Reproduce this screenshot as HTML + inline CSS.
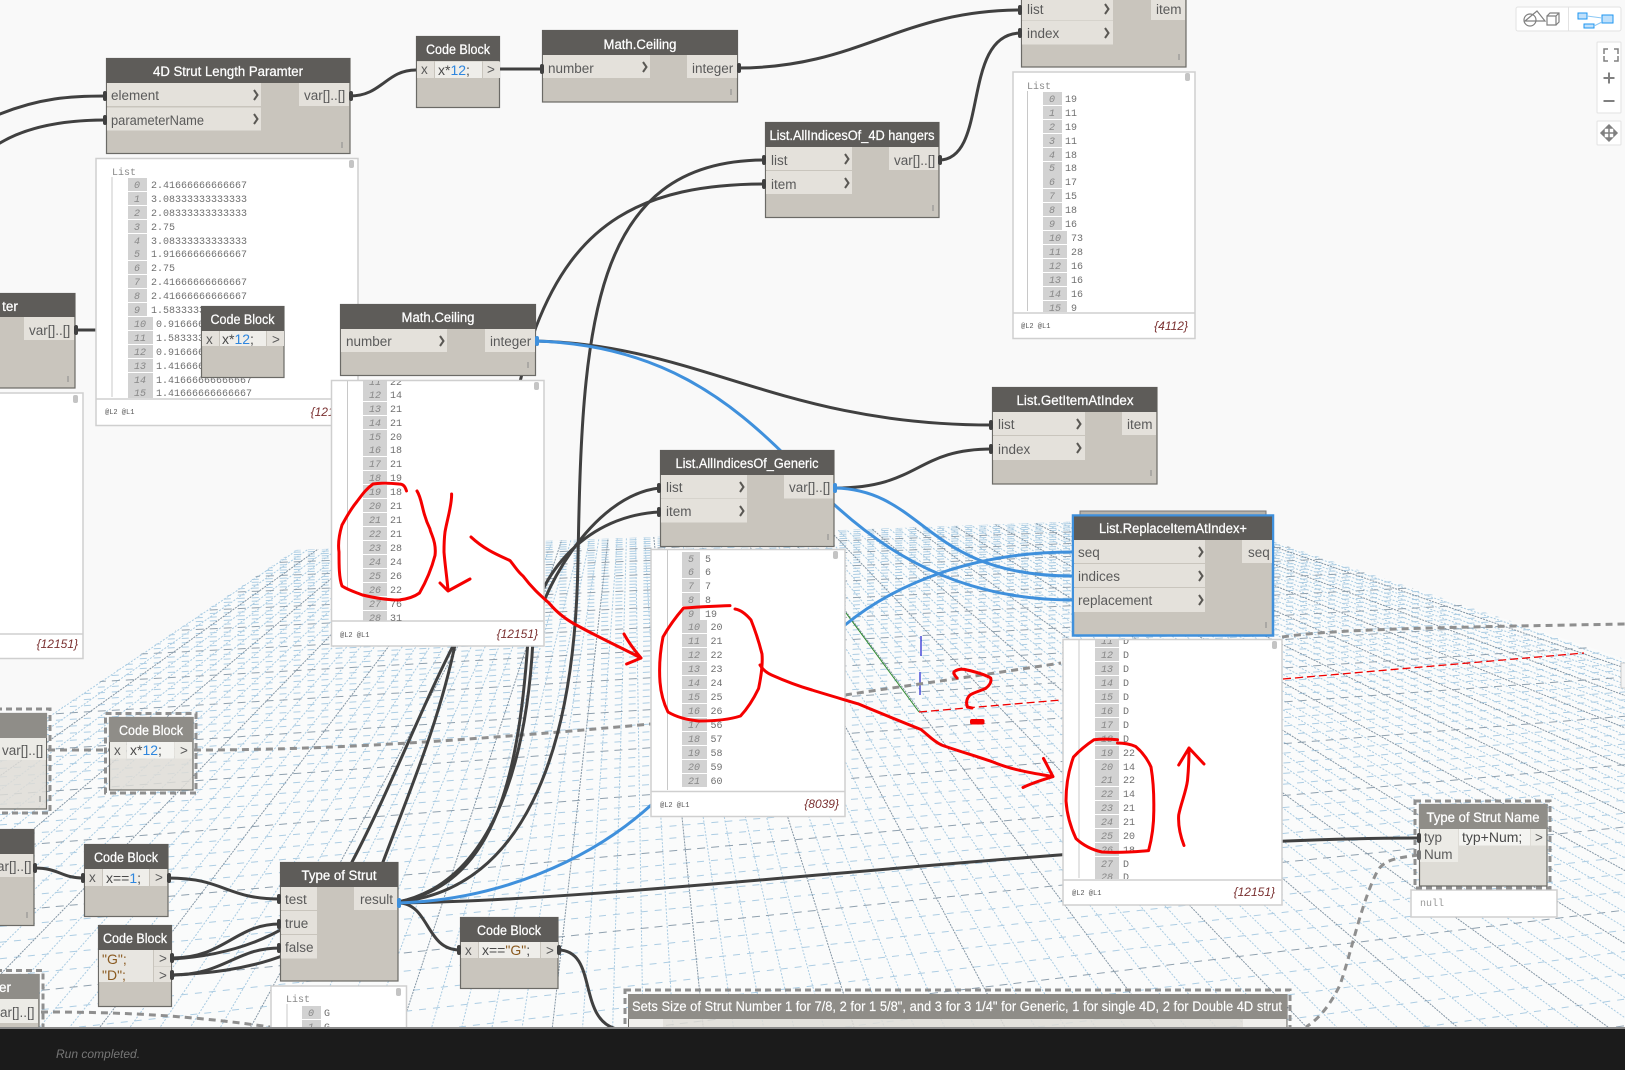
<!DOCTYPE html>
<html><head><meta charset="utf-8"><style>
html,body{margin:0;padding:0;width:1625px;height:1070px;overflow:hidden;background:#f9f9f9}
svg{position:absolute;left:0;top:0}
text{font-family:"Liberation Sans",sans-serif;font-size:13.5px;fill:#5a5a5a}
.hd{fill:#5e5c59}.bd{fill:#c9c5bd;stroke:#6b6a66;stroke-width:1.2}.rw{fill:#e4e1db}
.hf{fill:#8f8d88}.bf{fill:#dedcd6;stroke:#6b6a66;stroke-width:1.2}
.t{fill:#fff;text-anchor:middle;font-size:13.5px;stroke:#fff;stroke-width:.25}
.c{stroke:#404040;stroke-width:3;fill:none;stroke-linecap:round}
.bl{stroke:#3f90dc;stroke-width:3;fill:none;stroke-linecap:round}
.ds{stroke:#8f8f8f;stroke-width:3;fill:none;stroke-dasharray:7 5}
.sel{stroke:#8f8f8f;stroke-width:3;fill:none;stroke-dasharray:6 4}
.red{stroke:#f50000;stroke-width:3;fill:none;stroke-linecap:round;stroke-linejoin:round}
.chev{stroke:#5a5854;stroke-width:2;fill:none}
.pv{fill:#fff;stroke:#cfcfcf;stroke-width:1.5}
.ln{stroke:#cfcfcf;stroke-width:1.5}
.vl{stroke:#c8c8c8;stroke-width:1}
.ix{fill:#d2d2d2}
.i{font-family:"Liberation Mono",monospace;font-size:10px;font-style:italic;fill:#888;text-anchor:middle}
.v{font-family:"Liberation Mono",monospace;font-size:10px;fill:#707070}
.f{font-family:"Liberation Mono",monospace;font-size:7px;fill:#555}
.n{font-family:"Liberation Sans",sans-serif;font-size:12px;font-style:italic;fill:#7a3030;text-anchor:end}
.cd{font-family:"Liberation Sans",sans-serif;font-size:14px;fill:#4a4a4a}
.tool{fill:#fff;stroke:#e2e2e2;stroke-width:1}
.ic{stroke:#808080;stroke-width:1.2;fill:none}
.thumb{fill:#c4c4c4}
.grip{stroke:#8a8a8a;stroke-width:1}
.pt{fill:#404040}
.ga{stroke:#a9cbe2;stroke-width:1;fill:none;stroke-dasharray:2 1.5}
.gb{stroke:#adcde3;stroke-width:1;fill:none;stroke-dasharray:7 7}
.gam{stroke:#8496a5;stroke-width:1;fill:none;stroke-dasharray:2 1}
.gbm{stroke:#8fa0ae;stroke-width:1;fill:none;stroke-dasharray:8 6}
</style></head><body>
<svg width="1625" height="1070" viewBox="0 0 1625 1070">
<defs>
<clipPath id="gc"><polygon points="295,550 1200,517 2724,1027 -412,1027"/></clipPath>
<clipPath id="c1"><rect x="96" y="160" width="262" height="238"/></clipPath>
<clipPath id="c2"><rect x="331" y="381" width="213" height="240"/></clipPath>
<clipPath id="c3"><rect x="651" y="551" width="194" height="240"/></clipPath>
<clipPath id="c4"><rect x="1013" y="72" width="182" height="240"/></clipPath>
<clipPath id="c5"><rect x="1063" y="640" width="219" height="239"/></clipPath>
<clipPath id="c6"><rect x="271" y="986" width="136" height="41"/></clipPath>
<clipPath id="c7"><rect x="0" y="0" width="1625" height="1027"/></clipPath>
</defs>

<!-- Grid plane -->
<polygon points="295,550 1200,517 2724,1027 -412,1027" fill="#fafbfb"/>
<g clip-path="url(#gc)">
<path class="ga" d="M632.4 325L-412.7 1027M632.4 325L-382.6 1027M632.4 325L-322.2 1027M632.4 325L-292.1 1027M632.4 325L-261.9 1027M632.4 325L-231.8 1027M632.4 325L-171.4 1027M632.4 325L-141.3 1027M632.4 325L-111.1 1027M632.4 325L-81 1027M632.4 325L-20.6 1027M632.4 325L9.5 1027M632.4 325L39.7 1027M632.4 325L69.8 1027M632.4 325L130.2 1027M632.4 325L160.3 1027M632.4 325L190.5 1027M632.4 325L220.6 1027M632.4 325L281 1027M632.4 325L311.1 1027M632.4 325L341.3 1027M632.4 325L371.4 1027M632.4 325L431.8 1027M632.4 325L461.9 1027M632.4 325L492.1 1027M632.4 325L522.2 1027M632.4 325L582.6 1027M632.4 325L612.7 1027M632.4 325L642.9 1027M632.4 325L673 1027M632.4 325L733.4 1027M632.4 325L763.5 1027M632.4 325L793.7 1027M632.4 325L823.8 1027M632.4 325L884.2 1027M632.4 325L914.3 1027M632.4 325L944.5 1027M632.4 325L974.6 1027M632.4 325L1035 1027M632.4 325L1065.1 1027M632.4 325L1095.3 1027M632.4 325L1125.4 1027M632.4 325L1185.8 1027M632.4 325L1215.9 1027M632.4 325L1246.1 1027M632.4 325L1276.2 1027M632.4 325L1336.6 1027M632.4 325L1366.7 1027M632.4 325L1396.9 1027M632.4 325L1427 1027M632.4 325L1487.4 1027M632.4 325L1517.5 1027M632.4 325L1547.7 1027M632.4 325L1577.8 1027M632.4 325L1638.2 1027M632.4 325L1668.3 1027M632.4 325L1698.5 1027M632.4 325L1728.6 1027M632.4 325L1789 1027M632.4 325L1819.1 1027M632.4 325L1849.3 1027M632.4 325L1879.4 1027M632.4 325L1939.8 1027M632.4 325L1969.9 1027M632.4 325L2000.1 1027M632.4 325L2030.2 1027M632.4 325L2090.6 1027M632.4 325L2120.7 1027M632.4 325L2150.9 1027M632.4 325L2181 1027M632.4 325L2241.4 1027M632.4 325L2271.5 1027M632.4 325L2301.7 1027M632.4 325L2331.8 1027M632.4 325L2392.2 1027M632.4 325L2422.3 1027M632.4 325L2452.5 1027M632.4 325L2482.6 1027M632.4 325L2543 1027M632.4 325L2573.1 1027M632.4 325L2603.3 1027M632.4 325L2633.4 1027M632.4 325L2693.8 1027"/>
<path class="gb" d="M0 560.8L1625 501.5M0 563.1L1625 503.2M0 565.6L1625 505.1M0 568L1625 506.9M0 570.5L1625 508.8M0 575.8L1625 512.7M0 578.4L1625 514.7M0 581.2L1625 516.8M0 584L1625 518.9M0 589.8L1625 523.2M0 592.8L1625 525.5M0 595.8L1625 527.7M0 598.9L1625 530.1M0 605.4L1625 535M0 608.9L1625 537.6M0 612.4L1625 540.2M0 615.9L1625 542.8M0 623.2L1625 548.3M0 627L1625 551.2M0 630.9L1625 554.1M0 634.9L1625 557.1M0 643.2L1625 563.3M0 647.5L1625 566.5M0 652L1625 569.9M0 656.6L1625 573.4M0 666.1L1625 580.5M0 671.2L1625 584.3M0 676.2L1625 588.1M0 681.7L1625 592.2M0 692.8L1625 600.5M0 698.5L1625 604.8M0 704.5L1625 609.3M0 710.7L1625 614M0 723.7L1625 623.7M0 730.5L1625 628.8M0 737.6L1625 634.2M0 744.9L1625 639.6M0 760.3L1625 651.2M0 768.5L1625 657.4M0 777L1625 663.7M0 785.8L1625 670.4M0 804.4L1625 684.3M0 814.6L1625 691.9M0 824.9L1625 699.7M0 835.7L1625 707.8M0 858.7L1625 725M0 871L1625 734.3M0 883.9L1625 744M0 897.4L1625 754.1M0 926.5L1625 775.9M0 942.2L1625 787.7M0 958.7L1625 800.1M0 976.2L1625 813.2M0 1014.1L1625 841.7M266 1027L1625 873.9M459 1027L1625 891.4M845 1027L1625 930.1M1038 1027L1625 951.5M1230 1027L1625 974.4M1423 1027L1625 999.1M79 1027L1625 857.1"/>
<path class="gam" d="M632.4 325L-352.4 1027M632.4 325L-201.6 1027M632.4 325L-50.8 1027M632.4 325L100 1027M632.4 325L250.8 1027M632.4 325L401.6 1027M632.4 325L552.4 1027M632.4 325L703.2 1027M632.4 325L854 1027M632.4 325L1004.8 1027M632.4 325L1155.6 1027M632.4 325L1306.4 1027M632.4 325L1457.2 1027M632.4 325L1608 1027M632.4 325L1758.8 1027M632.4 325L1909.6 1027M632.4 325L2060.4 1027M632.4 325L2211.2 1027M632.4 325L2362 1027M632.4 325L2512.8 1027M632.4 325L2663.6 1027"/>
<path class="gbm" d="M0 573.1L1625 510.7M0 586.8L1625 521M0 602.2L1625 532.6M0 619.5L1625 545.5M0 639L1625 560.2M0 661.3L1625 576.9M0 687.1L1625 596.3M0 717.1L1625 618.8M0 752.5L1625 645.3M0 794.9L1625 677.2M0 846.9L1625 716.2M0 911.6L1625 764.7M0 994.6L1625 827M652 1027L1625 910.1M1616 1027L1625 1025.7"/>
</g>

<g clip-path="url(#c7)">
<!-- axes -->
<path d="M846 613 L919 712" stroke="#2c8a2c" stroke-width="1" fill="none"/>
<path d="M919 712 L1061 700 M1283 679 L1584 653" stroke="#f00000" stroke-width="1.3" stroke-dasharray="8 4" fill="none"/>
<path d="M921 636V656M920 672V695" stroke="#2020d0" stroke-width="1.2"/>
<rect x="1621" y="663" width="6" height="25" fill="#f4f4f4" stroke="#ccc"/>

<!-- dashed frozen connectors -->
<path class="ds" d="M48 750H109M194 750 C300 750 420 745 651 724 M845 695 C890 688 950 680 1061 663 M1282 637 C1330 630 1400 628 1625 624"/>
<path class="ds" d="M41 1012 C110 1012 180 1014 270 1027"/>
<path class="ds" d="M1419 855 C1395 858 1385 860 1378 870 C1362 900 1352 950 1340 985 C1330 1005 1320 1018 1306 1027"/>

<!-- connectors -->
<path class="c" d="M0 114 C40 98 70 96 106 96"/>
<path class="c" d="M0 143 C30 125 70 120 106 120"/>
<path class="c" d="M350 96 C382 96 386 70 416 70"/>
<path class="c" d="M500 69H542"/>
<path class="c" d="M737 68 C860 68 900 10 1021 10"/>
<path class="c" d="M939 160 C990 160 960 33 1021 33"/>
<path class="c" d="M75 330H98"/>
<path class="c" d="M398 902 C520 890 575 760 578 560 C582 330 590 160 765 160"/>
<path class="c" d="M172 959 C240 955 310 930 352 862 C390 790 420 710 456 640 C490 540 510 400 536 327 C575 225 640 184 765 184"/>
<path class="c" d="M172 975 C240 972 340 960 383 862 C410 790 440 720 456 640"/>
<path class="c" d="M398 902 C480 885 525 790 533 640 C536 600 590 495 660 488"/>
<path class="c" d="M398 902 C490 885 518 790 528 640 C536 570 590 515 660 512"/>
<path class="c" d="M536 341 C700 345 780 425 992 425"/>
<path class="c" d="M835 488 C920 488 915 449 992 449"/>
<path class="c" d="M398 903 C650 900 1100 838 1419 838"/>
<path class="c" d="M398 903 C430 903 425 950 460 950"/>
<path class="c" d="M558 950 C600 950 575 1025 622 1030"/>
<path class="c" d="M168 878 C225 878 225 899 280 899"/>
<path class="c" d="M34 868 C60 868 60 878 84 878"/>
<path class="c" d="M172 958 C225 958 235 924 280 924"/>
<path class="c" d="M172 975 C225 975 235 948 280 948"/>
<path class="bl" d="M536 341 C660 345 730 400 790 460 C850 525 930 600 1072 600"/>
<path class="bl" d="M835 488 C925 490 925 576 1072 576"/>
<path class="bl" d="M398 903 C500 900 590 860 650 806 C730 740 820 650 845 625 C900 580 980 552 1072 552"/>

<!-- previews -->
<rect class="pv" x="96" y="158.500" width="262" height="267"/>
<path class="ln" d="M96 399H358"/><path class="vl" d="M112 177V397"/>
<rect class="thumb" x="349" y="160" width="5" height="8" rx="2"/>
<text x="112" y="175" class="v" style="fill:#888">List</text>
<g clip-path="url(#c1)">
<path class="ix" d="M128 178h19v13h-19zM128 192h19v13h-19zM128 206h19v13h-19zM128 220h19v13h-19zM128 234h19v13h-19zM128 247h19v13h-19zM128 261h19v13h-19zM128 275h19v13h-19zM128 289h19v13h-19zM128 303h19v13h-19zM128 317h25v13h-25zM128 331h25v13h-25zM128 345h25v13h-25zM128 359h25v13h-25zM128 373h25v13h-25zM128 386h25v13h-25z"/>
<text class="i" x="137" y="188">0</text><text class="v" x="151" y="188">2.41666666666667</text>
<text class="i" x="137" y="202">1</text><text class="v" x="151" y="202">3.08333333333333</text>
<text class="i" x="137" y="216">2</text><text class="v" x="151" y="216">2.08333333333333</text>
<text class="i" x="137" y="230">3</text><text class="v" x="151" y="230">2.75</text>
<text class="i" x="137" y="244">4</text><text class="v" x="151" y="244">3.08333333333333</text>
<text class="i" x="137" y="257">5</text><text class="v" x="151" y="257">1.91666666666667</text>
<text class="i" x="137" y="271">6</text><text class="v" x="151" y="271">2.75</text>
<text class="i" x="137" y="285">7</text><text class="v" x="151" y="285">2.41666666666667</text>
<text class="i" x="137" y="299">8</text><text class="v" x="151" y="299">2.41666666666667</text>
<text class="i" x="137" y="313">9</text><text class="v" x="151" y="313">1.58333333333333</text>
<text class="i" x="140" y="327">10</text><text class="v" x="156" y="327">0.916666666666667</text>
<text class="i" x="140" y="341">11</text><text class="v" x="156" y="341">1.58333333333333</text>
<text class="i" x="140" y="355">12</text><text class="v" x="156" y="355">0.916666666666667</text>
<text class="i" x="140" y="369">13</text><text class="v" x="156" y="369">1.41666666666667</text>
<text class="i" x="140" y="383">14</text><text class="v" x="156" y="383">1.41666666666667</text>
<text class="i" x="140" y="396">15</text><text class="v" x="156" y="396">1.41666666666667</text>
</g>
<text class="f" x="105" y="414">@L2 @L1</text><text class="n" x="352" y="416">{12151}</text>

<rect class="pv" x="-2" y="393" width="85" height="265.500"/>
<path class="ln" d="M-2 634H83"/><rect class="thumb" x="73" y="395" width="5" height="8" rx="2"/>
<text class="n" x="78" y="648">{12151}</text>

<rect class="pv" x="331.500" y="380.500" width="212.500" height="265.500"/>
<path class="ln" d="M332 621H544"/><path class="vl" d="M347.500 381V589"/>
<rect class="thumb" x="534" y="382" width="5" height="8" rx="2"/>
<g clip-path="url(#c2)">
<path class="ix" d="M363 375h24v13h-24zM363 388h24v13h-24zM363 402h24v13h-24zM363 416h24v13h-24zM363 430h24v13h-24zM363 443h24v13h-24zM363 457h24v13h-24zM363 471h24v13h-24zM363 485h24v13h-24zM363 499h24v13h-24zM363 513h24v13h-24zM363 527h24v13h-24zM363 541h24v13h-24zM363 555h24v13h-24zM363 569h24v13h-24zM363 583h24v13h-24zM363 597h24v13h-24zM363 611h24v13h-24z"/>
<text class="i" x="375" y="385">11</text><text class="v" x="390" y="385">22</text>
<text class="i" x="375" y="398">12</text><text class="v" x="390" y="398">14</text>
<text class="i" x="375" y="412">13</text><text class="v" x="390" y="412">21</text>
<text class="i" x="375" y="426">14</text><text class="v" x="390" y="426">21</text>
<text class="i" x="375" y="440">15</text><text class="v" x="390" y="440">20</text>
<text class="i" x="375" y="453">16</text><text class="v" x="390" y="453">18</text>
<text class="i" x="375" y="467">17</text><text class="v" x="390" y="467">21</text>
<text class="i" x="375" y="481">18</text><text class="v" x="390" y="481">19</text>
<text class="i" x="375" y="495">19</text><text class="v" x="390" y="495">18</text>
<text class="i" x="375" y="509">20</text><text class="v" x="390" y="509">21</text>
<text class="i" x="375" y="523">21</text><text class="v" x="390" y="523">21</text>
<text class="i" x="375" y="537">22</text><text class="v" x="390" y="537">21</text>
<text class="i" x="375" y="551">23</text><text class="v" x="390" y="551">28</text>
<text class="i" x="375" y="565">24</text><text class="v" x="390" y="565">24</text>
<text class="i" x="375" y="579">25</text><text class="v" x="390" y="579">26</text>
<text class="i" x="375" y="593">26</text><text class="v" x="390" y="593">22</text>
<text class="i" x="375" y="607">27</text><text class="v" x="390" y="607">76</text>
<text class="i" x="375" y="621">28</text><text class="v" x="390" y="621">31</text>
</g>
<text class="f" x="340" y="637">@L2 @L1</text><text class="n" x="538" y="638">{12151}</text>

<rect class="pv" x="651" y="549.500" width="194" height="267"/>
<path class="ln" d="M651 791.500H845"/><path class="vl" d="M667.500 550V790"/>
<rect class="thumb" x="833" y="551" width="5" height="8" rx="2"/>
<g clip-path="url(#c3)">
<path class="ix" d="M682 552h18v13h-18zM682 565h18v13h-18zM682 579h18v13h-18zM682 593h18v13h-18zM682 607h18v13h-18zM682 620h25v13h-25zM682 634h25v13h-25zM682 648h25v13h-25zM682 662h25v13h-25zM682 676h25v13h-25zM682 690h25v13h-25zM682 704h25v13h-25zM682 718h25v13h-25zM682 732h25v13h-25zM682 746h25v13h-25zM682 760h25v13h-25zM682 774h25v13h-25z"/>
<text class="i" x="691" y="562">5</text><text class="v" x="705" y="562">5</text>
<text class="i" x="691" y="575">6</text><text class="v" x="705" y="575">6</text>
<text class="i" x="691" y="589">7</text><text class="v" x="705" y="589">7</text>
<text class="i" x="691" y="603">8</text><text class="v" x="705" y="603">8</text>
<text class="i" x="691" y="617">9</text><text class="v" x="705" y="617">19</text>
<text class="i" x="694" y="630">10</text><text class="v" x="710.500" y="630">20</text>
<text class="i" x="694" y="644">11</text><text class="v" x="710.500" y="644">21</text>
<text class="i" x="694" y="658">12</text><text class="v" x="710.500" y="658">22</text>
<text class="i" x="694" y="672">13</text><text class="v" x="710.500" y="672">23</text>
<text class="i" x="694" y="686">14</text><text class="v" x="710.500" y="686">24</text>
<text class="i" x="694" y="700">15</text><text class="v" x="710.500" y="700">25</text>
<text class="i" x="694" y="714">16</text><text class="v" x="710.500" y="714">26</text>
<text class="i" x="694" y="728">17</text><text class="v" x="710.500" y="728">56</text>
<text class="i" x="694" y="742">18</text><text class="v" x="710.500" y="742">57</text>
<text class="i" x="694" y="756">19</text><text class="v" x="710.500" y="756">58</text>
<text class="i" x="694" y="770">20</text><text class="v" x="710.500" y="770">59</text>
<text class="i" x="694" y="784">21</text><text class="v" x="710.500" y="784">60</text>
</g>
<text class="f" x="660" y="807">@L2 @L1</text><text class="n" x="839" y="808">{8039}</text>

<rect class="pv" x="1013" y="72" width="182" height="266.500"/>
<path class="ln" d="M1013 313H1195"/><path class="vl" d="M1027.500 91V311"/>
<rect class="thumb" x="1185" y="73" width="5" height="8" rx="2"/>
<text x="1027" y="89" class="v" style="fill:#888">List</text>
<g clip-path="url(#c4)">
<path class="ix" d="M1043 92h19v13h-19zM1043 106h19v13h-19zM1043 120h19v13h-19zM1043 134h19v13h-19zM1043 148h19v13h-19zM1043 162h19v13h-19zM1043 175h19v13h-19zM1043 189h19v13h-19zM1043 203h19v13h-19zM1043 217h19v13h-19zM1043 231h24v13h-24zM1043 245h24v13h-24zM1043 259h24v13h-24zM1043 273h24v13h-24zM1043 287h24v13h-24zM1043 301h24v13h-24z"/>
<text class="i" x="1052" y="102">0</text><text class="v" x="1065" y="102">19</text>
<text class="i" x="1052" y="116">1</text><text class="v" x="1065" y="116">11</text>
<text class="i" x="1052" y="130">2</text><text class="v" x="1065" y="130">19</text>
<text class="i" x="1052" y="144">3</text><text class="v" x="1065" y="144">11</text>
<text class="i" x="1052" y="158">4</text><text class="v" x="1065" y="158">18</text>
<text class="i" x="1052" y="171">5</text><text class="v" x="1065" y="171">18</text>
<text class="i" x="1052" y="185">6</text><text class="v" x="1065" y="185">17</text>
<text class="i" x="1052" y="199">7</text><text class="v" x="1065" y="199">15</text>
<text class="i" x="1052" y="213">8</text><text class="v" x="1065" y="213">18</text>
<text class="i" x="1052" y="227">9</text><text class="v" x="1065" y="227">16</text>
<text class="i" x="1055" y="241">10</text><text class="v" x="1071" y="241">73</text>
<text class="i" x="1055" y="255">11</text><text class="v" x="1071" y="255">28</text>
<text class="i" x="1055" y="269">12</text><text class="v" x="1071" y="269">16</text>
<text class="i" x="1055" y="283">13</text><text class="v" x="1071" y="283">16</text>
<text class="i" x="1055" y="297">14</text><text class="v" x="1071" y="297">16</text>
<text class="i" x="1055" y="311">15</text><text class="v" x="1071" y="311">9</text>
</g>
<text class="f" x="1021" y="328">@L2 @L1</text><text class="n" x="1188" y="330">{4112}</text>

<rect class="pv" x="1063" y="639.500" width="219" height="265.500"/>
<path class="ln" d="M1063 880H1282"/><path class="vl" d="M1079 640V878"/>
<rect class="thumb" x="1272" y="641" width="5" height="8" rx="2"/>
<g clip-path="url(#c5)">
<path class="ix" d="M1095 634h24v13h-24zM1095 648h24v13h-24zM1095 662h24v13h-24zM1095 676h24v13h-24zM1095 690h24v13h-24zM1095 704h24v13h-24zM1095 718h24v13h-24zM1095 732h24v13h-24zM1095 746h24v13h-24zM1095 760h24v13h-24zM1095 773h24v13h-24zM1095 787h24v13h-24zM1095 801h24v13h-24zM1095 815h24v13h-24zM1095 829h24v13h-24zM1095 843h24v13h-24zM1095 857h24v13h-24zM1095 870h24v13h-24z"/>
<text class="i" x="1107" y="644">11</text><text class="v" x="1123" y="644">D</text>
<text class="i" x="1107" y="658">12</text><text class="v" x="1123" y="658">D</text>
<text class="i" x="1107" y="672">13</text><text class="v" x="1123" y="672">D</text>
<text class="i" x="1107" y="686">14</text><text class="v" x="1123" y="686">D</text>
<text class="i" x="1107" y="700">15</text><text class="v" x="1123" y="700">D</text>
<text class="i" x="1107" y="714">16</text><text class="v" x="1123" y="714">D</text>
<text class="i" x="1107" y="728">17</text><text class="v" x="1123" y="728">D</text>
<text class="i" x="1107" y="742">18</text><text class="v" x="1123" y="742">D</text>
<text class="i" x="1107" y="756">19</text><text class="v" x="1123" y="756">22</text>
<text class="i" x="1107" y="770">20</text><text class="v" x="1123" y="770">14</text>
<text class="i" x="1107" y="783">21</text><text class="v" x="1123" y="783">22</text>
<text class="i" x="1107" y="797">22</text><text class="v" x="1123" y="797">14</text>
<text class="i" x="1107" y="811">23</text><text class="v" x="1123" y="811">21</text>
<text class="i" x="1107" y="825">24</text><text class="v" x="1123" y="825">21</text>
<text class="i" x="1107" y="839">25</text><text class="v" x="1123" y="839">20</text>
<text class="i" x="1107" y="853">26</text><text class="v" x="1123" y="853">18</text>
<text class="i" x="1107" y="867">27</text><text class="v" x="1123" y="867">D</text>
<text class="i" x="1107" y="880">28</text><text class="v" x="1123" y="880">D</text>
</g>
<text class="f" x="1072" y="895">@L2 @L1</text><text class="n" x="1275" y="896">{12151}</text>

<rect class="pv" x="1411" y="890" width="146" height="27"/>
<text class="v" x="1420" y="906" style="fill:#999">null</text>

<rect class="pv" x="271" y="986" width="135.500" height="60"/>
<path class="vl" d="M287 1004V1027"/><rect class="thumb" x="396" y="988" width="5" height="8" rx="2"/>
<text x="286" y="1002" class="v" style="fill:#888">List</text>
<g clip-path="url(#c6)">
<path class="ix" d="M302 1006h19v13h-19zM302 1020h19v13h-19z"/>
<text class="i" x="311" y="1016">0</text><text class="v" x="324" y="1016">G</text>
<text class="i" x="311" y="1030">1</text><text class="v" x="324" y="1030">G</text>
</g>

<!-- Nodes -->
<!-- 4D Strut -->
<rect class="bd" x="106.500" y="58.500" width="243.500" height="95"/><rect class="hd" x="106" y="58" width="244" height="25"/>
<path class="rw" d="M107 83h154v23h-154zM107 107.500h154v23h-154zM299 83h50v23h-50z"/>
<text class="t" x="228" y="76" textLength="150" lengthAdjust="spacingAndGlyphs">4D Strut Length Paramter</text>
<text x="111" y="100">element</text><text x="111" y="125" textLength="93" lengthAdjust="spacingAndGlyphs">parameterName</text><text x="304" y="100">var[]..[]</text>
<path class="chev" d="M254 90l3.500 5-3.500 5M254 114l3.500 5-3.500 5"/><path class="grip" d="M342 142v6"/>
<rect class="pt" x="103" y="91" width="4" height="10" rx="2"/><rect class="pt" x="103" y="115" width="4" height="10" rx="2"/><rect class="pt" x="349" y="91" width="4" height="10" rx="2"/>

<!-- Code Block top -->
<rect class="bd" x="416.500" y="36.500" width="83" height="71"/><rect class="hd" x="416" y="36" width="84" height="25"/>
<path class="rw" d="M417 61.500h17v16.500h-17zM435 61.500h47v16.500h-47zM483 61.500h17v16.500h-17z"/><rect x="435" y="61.500" width="47" height="16.500" fill="#efeeea"/>
<text class="t" x="458" y="54" textLength="64" lengthAdjust="spacingAndGlyphs">Code Block</text>
<text x="421" y="74" font-size="12">x</text><text class="cd" x="438" y="75">x*<tspan fill="#2e86de">12</tspan>;</text><text x="487" y="74">&gt;</text>

<!-- Math.Ceiling top -->
<rect class="bd" x="542.500" y="30.500" width="195" height="71.500"/><rect class="hd" x="542" y="30" width="196" height="25"/>
<path class="rw" d="M543 55h107v23h-107zM687 55h50v23h-50z"/>
<text class="t" x="640" y="49" textLength="73" lengthAdjust="spacingAndGlyphs">Math.Ceiling</text>
<text x="548" y="73">number</text><text x="692" y="73">integer</text>
<path class="chev" d="M643 62l3.500 5-3.500 5"/><path class="grip" d="M731 89v6"/>
<rect class="pt" x="540" y="64" width="4" height="10" rx="2"/><rect class="pt" x="737" y="63" width="4" height="10" rx="2"/>

<!-- AllIndices 4D -->
<rect class="bd" x="765.500" y="122.500" width="173.500" height="95"/><rect class="hd" x="765" y="122" width="174" height="25"/>
<path class="rw" d="M766 147h86v23h-86zM766 171h86v23h-86zM889 147h49v23h-49z"/>
<text class="t" x="852" y="140" textLength="165" lengthAdjust="spacingAndGlyphs">List.AllIndicesOf_4D hangers</text>
<text x="771" y="165">list</text><text x="771" y="189">item</text><text x="894" y="165">var[]..[]</text>
<path class="chev" d="M845 154l3.500 5-3.500 5M845 178l3.500 5-3.500 5"/><path class="grip" d="M933 205v6"/>
<rect class="pt" x="762" y="155" width="4" height="10" rx="2"/><rect class="pt" x="762" y="179" width="4" height="10" rx="2"/><rect class="pt" x="938" y="155" width="4" height="10" rx="2"/>

<!-- GetItem top -->
<rect class="bd" x="1021.500" y="-20" width="164.500" height="87"/>
<path class="rw" d="M1022 -4h91v24h-91zM1022 20.500h91v24h-91zM1151 -4h34v24h-34z"/>
<text x="1027" y="14">list</text><text x="1027" y="38">index</text><text x="1156" y="14">item</text>
<path class="chev" d="M1105 4l3.500 5-3.500 5M1105 28l3.500 5-3.500 5"/><path class="grip" d="M1179 54v6"/>
<rect class="pt" x="1018" y="5" width="4" height="10" rx="2"/><rect class="pt" x="1018" y="28" width="4" height="10" rx="2"/>

<!-- partial left -->
<rect class="bd" x="-2" y="293.500" width="77" height="94.500"/><rect class="hd" x="-2" y="293" width="77" height="24"/>
<rect class="rw" x="24" y="317" width="50" height="23"/>
<text class="t" x="10" y="311">ter</text><text x="29" y="335">var[]..[]</text><path class="grip" d="M68 376v6"/>
<rect class="pt" x="74" y="325" width="4" height="10" rx="2"/>

<!-- Code Block mid -->
<rect class="bd" x="201.500" y="306.500" width="82.500" height="71"/><rect class="hd" x="201" y="306" width="83" height="25"/>
<path class="rw" d="M202 331h17v15h-17zM267 331h17v15h-17z"/><rect x="220" y="331" width="46" height="15" fill="#efeeea"/>
<text class="t" x="242.500" y="324" textLength="64" lengthAdjust="spacingAndGlyphs">Code Block</text>
<text x="206" y="344" font-size="12">x</text><text class="cd" x="222" y="344">x*<tspan fill="#2e86de">12</tspan>;</text><text x="272" y="344">&gt;</text>

<!-- Math.Ceiling mid -->
<rect class="bd" x="340.500" y="304.500" width="195" height="71"/><rect class="hd" x="340" y="304" width="196" height="25"/>
<path class="rw" d="M341 329h106v23h-106zM485 329h50v23h-50z"/>
<text class="t" x="438" y="322" textLength="73" lengthAdjust="spacingAndGlyphs">Math.Ceiling</text>
<text x="346" y="346">number</text><text x="490" y="346">integer</text>
<path class="chev" d="M440 336l3.500 5-3.500 5"/><path class="grip" d="M528 362v6"/>
<rect class="pt" x="535" y="336" width="4" height="10" rx="2" style="fill:#3f90dc"/>

<!-- GetItem 2 -->
<rect class="bd" x="992.500" y="387.500" width="164.500" height="96.500"/><rect class="hd" x="992" y="387" width="165" height="25"/>
<path class="rw" d="M993 412h92v23h-92zM993 436h92v24h-92zM1122 412h34v23h-34z"/>
<text class="t" x="1075" y="405" textLength="117" lengthAdjust="spacingAndGlyphs">List.GetItemAtIndex</text>
<text x="998" y="429">list</text><text x="998" y="454">index</text><text x="1127" y="429">item</text>
<path class="chev" d="M1077 419l3.500 5-3.500 5M1077 443l3.500 5-3.500 5"/><path class="grip" d="M1151 470v6"/>
<rect class="pt" x="989" y="420" width="4" height="10" rx="2"/><rect class="pt" x="989" y="444" width="4" height="10" rx="2"/>

<!-- Generic -->
<rect class="bd" x="660.500" y="450.500" width="173.500" height="96"/><rect class="hd" x="660" y="450" width="174" height="25"/>
<path class="rw" d="M661 475h86v23.500h-86zM661 499h86v23.500h-86zM784 475h49v23.500h-49z"/>
<text class="t" x="747" y="468" textLength="143" lengthAdjust="spacingAndGlyphs">List.AllIndicesOf_Generic</text>
<text x="666" y="492">list</text><text x="666" y="516">item</text><text x="789" y="492">var[]..[]</text>
<path class="chev" d="M740 482l3.500 5-3.500 5M740 506l3.500 5-3.500 5"/><path class="grip" d="M828 534v6"/>
<rect class="pt" x="657" y="483" width="4" height="10" rx="2"/><rect class="pt" x="657" y="507" width="4" height="10" rx="2"/>
<rect x="833" y="483" width="4" height="10" rx="2" fill="#3f90dc"/>

<!-- ReplaceItem -->
<rect x="1080" y="511" width="186" height="6" fill="#b5b2ab" stroke="#777"/>
<rect x="1073" y="515.500" width="200" height="120" fill="#c9c5bd" stroke="#3f90dc" stroke-width="2.500"/><rect class="hd" x="1074" y="516.500" width="198" height="23.500"/>
<path class="rw" d="M1074 540h131v23h-131zM1074 564h131v23h-131zM1074 588h131v24h-131zM1242 540h30v23h-30z"/>
<text class="t" x="1173" y="533" textLength="148" lengthAdjust="spacingAndGlyphs">List.ReplaceItemAtIndex+</text>
<text x="1078" y="557">seq</text><text x="1078" y="581">indices</text><text x="1078" y="605">replacement</text><text x="1248" y="557">seq</text>
<path class="chev" d="M1199 547l3.500 5-3.500 5M1199 571l3.500 5-3.500 5M1199 595l3.500 5-3.500 5"/><path class="grip" d="M1266 622v6"/>

<!-- Type of Strut Name -->
<rect class="sel" x="1415" y="801" width="135" height="87"/>
<rect class="bf" x="1419.500" y="804.500" width="127.500" height="81.500"/><rect class="hf" x="1419" y="804" width="128" height="25"/>
<path d="M1420 829h38v16.500h-38zM1420 845.500h38v16.500h-38zM1531 829h15v16.500h-15z" fill="#ecebe6"/><rect x="1459" y="829" width="71" height="16.500" fill="#f4f4f1"/>
<text class="t" x="1483" y="822" textLength="113" lengthAdjust="spacingAndGlyphs">Type of Strut Name</text>
<text x="1424" y="842">typ</text><text x="1424" y="859">Num</text><text class="cd" x="1462" y="842">typ+Num;</text><text x="1535" y="842">&gt;</text>
<rect class="pt" x="1417" y="833" width="4" height="10" rx="2"/><rect x="1417" y="850" width="4" height="10" rx="2" fill="#777"/>

<!-- Sets Size -->
<rect class="sel" x="625" y="990" width="665" height="42"/>
<rect x="628.500" y="994.500" width="658.500" height="40" fill="#dedcd6" fill-opacity=".85" stroke="#6b6a66"/><rect x="628" y="994" width="659" height="25" fill="#8f8d88"/>
<rect x="629" y="1019" width="34" height="10" fill="#f0efec"/><rect x="1243" y="1019" width="43" height="10" fill="#f0efec"/>
<text class="t" x="957" y="1011" textLength="650" lengthAdjust="spacingAndGlyphs" style="stroke-width:.15">Sets Size of Strut Number 1 for 7/8, 2 for 1 5/8", and 3 for 3 1/4" for Generic, 1 for single 4D, 2 for Double 4D strut</text>

<!-- Frozen left -->
<rect class="sel" x="-4" y="709" width="54" height="104"/>
<rect class="bf" x="-2" y="713.500" width="48.500" height="95.500" fill-opacity=".85"/><rect class="hf" x="-2" y="713" width="49" height="25"/>
<rect x="0" y="738" width="46" height="22" fill="#ecebe6"/><text x="2" y="755">var[]..[]</text>
<path class="grip" d="M40 796v6"/>

<!-- Frozen code block -->
<rect class="sel" x="105.500" y="713.500" width="90.500" height="79.500"/>
<rect class="bf" x="109.500" y="717.500" width="83.500" height="72.500" fill-opacity=".85"/><rect class="hf" x="109" y="717" width="84" height="25"/>
<path d="M110 742h16v16.500h-16zM175 742h17v16.500h-17z" fill="#ecebe6"/><rect x="127" y="742" width="47" height="16.500" fill="#f4f4f1"/>
<text class="t" x="151" y="735" textLength="64" lengthAdjust="spacingAndGlyphs">Code Block</text>
<text x="114" y="755" font-size="12">x</text><text class="cd" x="130" y="755">x*<tspan fill="#2e86de">12</tspan>;</text><text x="180" y="755">&gt;</text>

<!-- ar node -->
<rect class="bd" x="-2" y="829.500" width="36" height="96"/><rect class="hd" x="-2" y="829" width="36" height="25"/>
<rect class="rw" x="-2" y="854" width="35" height="23"/><text x="-3" y="871">ar[]..[]</text><path class="grip" d="M27 912v6"/>
<rect class="pt" x="33" y="863" width="4" height="10" rx="2"/>

<!-- x==1 -->
<rect class="bd" x="84.500" y="844.500" width="83.500" height="72"/><rect class="hd" x="84" y="844" width="84" height="25"/>
<path class="rw" d="M85 869h17v17h-17zM150 869h17v17h-17z"/><rect x="103" y="869" width="46" height="17" fill="#efeeea"/>
<text class="t" x="126" y="862" textLength="64" lengthAdjust="spacingAndGlyphs">Code Block</text>
<text x="89" y="882" font-size="12">x</text><text class="cd" x="106" y="883">x==<tspan fill="#2e86de">1</tspan>;</text><text x="155" y="882">&gt;</text>
<rect class="pt" x="81" y="873" width="4" height="10" rx="2"/><rect class="pt" x="167" y="873" width="4" height="10" rx="2"/>

<!-- G D -->
<rect class="bd" x="98.500" y="925.500" width="73" height="81"/><rect class="hd" x="98" y="925" width="74" height="25"/>
<rect x="99" y="950" width="54" height="32" fill="#e8e6e1"/><path class="rw" d="M154 950h17v16h-17zM154 966.500h17v15.500h-17z"/>
<text class="t" x="135" y="943" textLength="64" lengthAdjust="spacingAndGlyphs">Code Block</text>
<text class="cd" x="102" y="964" style="fill:#8a5a20">"G";</text><text class="cd" x="102" y="980" style="fill:#8a5a20">"D";</text>
<text x="159" y="963">&gt;</text><text x="159" y="980">&gt;</text>
<rect class="pt" x="170" y="953" width="4" height="10" rx="2"/><rect class="pt" x="170" y="970" width="4" height="10" rx="2"/>

<!-- Type of Strut -->
<rect class="bd" x="280.500" y="862.500" width="117.500" height="118.500"/><rect class="hd" x="280" y="862" width="118" height="25"/>
<path class="rw" d="M281 887h36v23h-36zM281 911h36v23h-36zM281 935h36v23.500h-36zM354 887h43v23h-43z"/>
<text class="t" x="339" y="880" textLength="75" lengthAdjust="spacingAndGlyphs">Type of Strut</text>
<text x="285" y="904">test</text><text x="285" y="928">true</text><text x="285" y="952">false</text><text x="360" y="904">result</text>
<rect class="pt" x="277" y="894" width="4" height="10" rx="2"/><rect class="pt" x="277" y="919" width="4" height="10" rx="2"/><rect class="pt" x="277" y="943" width="4" height="10" rx="2"/>
<rect x="397" y="898" width="4" height="10" rx="2" fill="#3f90dc"/>

<!-- x==G -->
<rect class="bd" x="460.500" y="917.500" width="97.500" height="71"/><rect class="hd" x="460" y="917" width="98" height="25"/>
<path class="rw" d="M461 942h17v16h-17zM541 942h17v16h-17z"/><rect x="479" y="942" width="61" height="16" fill="#efeeea"/>
<text class="t" x="509" y="935" textLength="64" lengthAdjust="spacingAndGlyphs">Code Block</text>
<text x="465" y="955" font-size="12">x</text><text class="cd" x="482" y="955">x==<tspan style="fill:#8a5a20">"G"</tspan>;</text><text x="546" y="955">&gt;</text>
<rect class="pt" x="457" y="945" width="4" height="10" rx="2"/><rect class="pt" x="557" y="945" width="4" height="10" rx="2"/>

<!-- er node -->
<rect class="sel" x="-4" y="970.500" width="47" height="60"/>
<rect class="bd" x="-2" y="974.500" width="41" height="55"/><rect class="hf" x="-2" y="974" width="41" height="25"/>
<rect x="-2" y="999" width="40" height="24" fill="#ecebe6"/><text class="t" x="5" y="992">er</text><text x="0" y="1017">ar[]..[]</text>

<!-- Red annotations -->
<path class="red" d="M406.500 491 C405 486 403 484 399 484 C390 483 380 483 373 484 C365 490 362 495 357 501.500 C350 510 346 518 342 525 C339 535 338 545 339 552 C339 565 339 578 342 586 C348 590 355 592 362.500 595 C375 598 388 600 399 600 C408 599 414 597 419.500 593 C427 580 432 567 435 555.500 C436 548 434 540 432 535 C430 530 430 530 430 529 C428 525 426 520 424.600 515 C422 507 421 497 417 491"/>
<path class="red" d="M451.600 494 C452 505 447 520 445 532 C444 540 444 546 444 552 C445 565 447 578 448 590 M440 583 L448 591 L470 579"/>
<path class="red" d="M471 537 C485 550 498 555 510 560.600 C516 568 518 572 523 576 C532 588 540 595 549 603 C558 614 570 622 580 627 C600 638 622 648 641 658 M624 634 C630 645 636 652 641 658 L626.600 664"/>
<path class="red" d="M730 605.600 C715 606 698 607 683.600 608 C675 618 668 628 663 637 C660 652 659 668 660 682 C661 695 664 704 668 712 C678 718 688 720 699 721 C714 721 728 720 740.500 716 C748 708 754 698 758.600 688.500 C761 677 763 665 762 654 C759 642 755 630 751 620 C746 614 741 610 735 609"/>
<path class="red" d="M760 665 C763 670 767 673 771.600 675 C785 681 798 686 812 690 C828 695 842 699 858.600 704 C880 713 902 722 921 729.500 C928 735 933 741 941.500 745 C958 751 976 756 993 762 C1012 770 1032 773 1053 776.600 M1043.500 758.500 C1047 765 1050 771 1053 776.600 C1042 780 1032 783 1023 787.500"/>
<path class="red" d="M957 678 C954 675 953 672 954.400 671.500 C958 669 963 669 967 670 C976 672 984 674 990.700 678 C992 682 989 686 985.500 688.500 C980 691 975 692 970 695 C966 699 966 703 967.400 707 L972 708"/>
<rect x="970" y="719" width="14.500" height="5.500" rx="2" fill="#f50000"/>
<path class="red" d="M1117.500 739.700 C1109 739 1101 739 1094 739.700 C1086 745 1079 751 1073.500 757 C1068 772 1066 787 1066 801 C1067 815 1071 828 1076 838.600 C1084 846 1093 850 1102 852 C1118 853 1134 852 1148.600 850.600 C1152 838 1154 822 1153.800 808 C1154 793 1153 779 1151 767 C1147 758 1141 751 1135.700 746.500 C1130 744 1124 743 1117.500 743"/>
<path class="red" d="M1184 845.500 C1180 835 1178 825 1178.700 815 C1181 803 1186 792 1187.500 780.600 C1188.500 770 1189 759 1189 748 M1178.700 765 L1189 748 L1204 764"/>
</g>

<!-- Bottom bar -->
<rect x="0" y="1027" width="1625" height="43" fill="#1b1b1b"/>
<rect x="0" y="1027" width="1625" height="2" fill="#8a8a8a"/>
<text x="56" y="1058" style="font-style:italic;font-size:12px;fill:#767676">Run completed.</text>

<!-- Toolbar -->
<rect class="tool" x="1516" y="7" width="105" height="24" rx="2"/><path d="M1568.500 7V31" stroke="#e2e2e2"/>
<circle class="ic" cx="1530" cy="20" r="6"/><path class="ic" d="M1525 21H1545L1537 11Z"/><path class="ic" d="M1547 16h9v9h-9zM1547 16l3-3h9v9l-3 3M1556 16l3-3"/>
<path d="M1578 13h9v6h-9zM1584 24h10v4h-10zM1602 15h11v8h-11z" fill="#bfe0fb" stroke="#1e96f0" stroke-width="1"/><path d="M1587 16L1602 18M1594 26L1602 22" stroke="#8cc8f5" stroke-width="1" fill="none"/>
<rect class="tool" x="1597" y="42" width="24" height="71" rx="1"/>
<path d="M1604 54v-5h4M1614 49h4v5M1604 56v5h4M1614 61h4v-5" stroke="#808080" stroke-width="1.500" fill="none"/>
<path d="M1603.500 78h11M1609 72.500v11M1603.500 101h11" stroke="#808080" stroke-width="2" fill="none"/>
<rect class="tool" x="1597" y="121" width="24" height="24" rx="1"/>
<path d="M1602 133h14M1609 126v14M1609 125l-3 3h6zM1609 141l-3-3h6zM1601 133l3-3v6zM1617 133l-3-3v6z" stroke="#808080" stroke-width="1.500" fill="#808080"/>
</svg>
</body></html>
